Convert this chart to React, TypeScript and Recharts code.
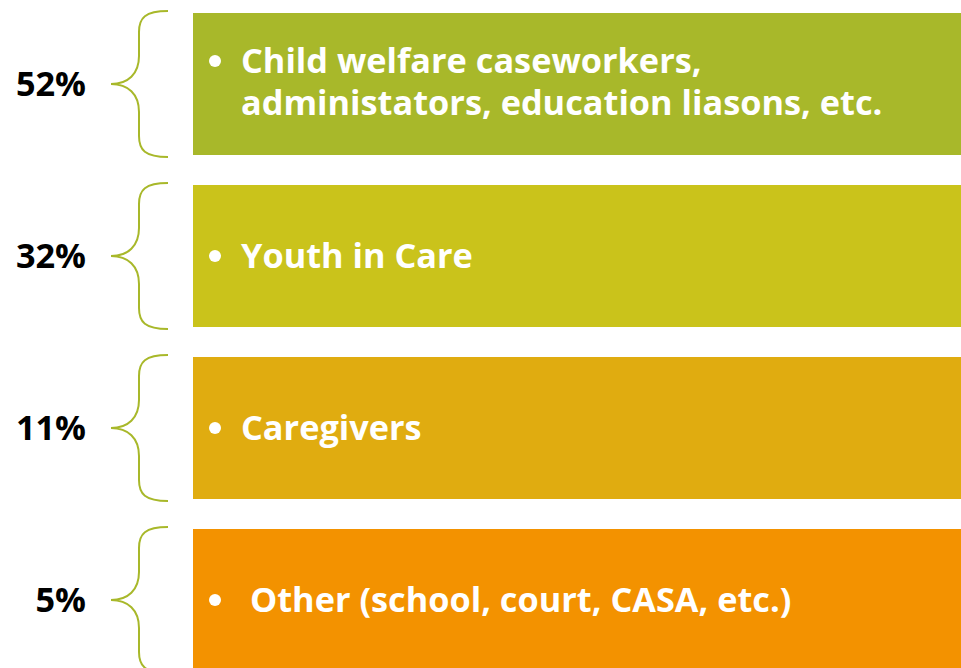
import React from 'react';
import { BarChart, Bar, XAxis, YAxis, Cell, Rectangle } from 'recharts';

// share of respondents per group
const percents = [52, 32, 11, 5];
const groupLines = [
  ['Child welfare caseworkers,', 'administators, education liasons, etc.'],
  ['Youth in Care'],
  ['Caregivers'],
  [' Other (school, court, CASA, etc.)'],
];
const groupColors = ['#A8B82A', '#CAC31B', '#E0AC10', '#F39200'];
const braceColor = '#A8B82A';
const fullScale = 100;

const data = percents.map((p, i) => ({
  pct: p,
  full: fullScale,
  lines: groupLines[i],
}));

const FONT = '"Open Sans", "Noto Sans", sans-serif';
const FS = 34.3;

// left side: percentage + curly brace
const BraceTick = (props: any) => {
  const { x, y, payload } = props;
  const c = y;
  const ends = x - 25;
  const mid = x - 54;
  const tip = x - 82;
  const d = `M${ends},${c - 73} C${mid + 6},${c - 73} ${mid},${c - 66} ${mid},${c - 52}
    L${mid},${c - 28} C${mid},${c - 10} ${tip + 17},${c} ${tip},${c}
    C${tip + 17},${c} ${mid},${c + 10} ${mid},${c + 28}
    L${mid},${c + 52} C${mid},${c + 66} ${mid + 6},${c + 73} ${ends},${c + 73}`;
  return (
    <g>
      <path d={d} fill="none" stroke={braceColor} strokeWidth={2} />
      <text
        x={x - 107}
        y={c + 12}
        textAnchor="end"
        fontFamily={FONT}
        fontWeight={700}
        fontSize={FS}
        fill="#000"
      >
        {`${payload.value}%`}
      </text>
    </g>
  );
};

// bar box with bullet text inside
const GroupBox = (props: any) => {
  const { x, y, width, height, fill, payload } = props;
  const lines: string[] = payload.lines;
  const lineH = 42;
  const cy = y + height / 2 - (lines.length > 1 ? 2 : 0);
  const first = cy - ((lines.length - 1) * lineH) / 2;
  return (
    <g>
      <Rectangle x={x} y={y} width={width} height={height} fill={fill} />
      <circle cx={x + 22} cy={first} r={6} fill="#fff" />
      <text
        x={x + 48}
        y={first + 12}
        fontFamily={FONT}
        fontWeight={700}
        fontSize={FS}
        fill="#fff"
        style={{ whiteSpace: 'pre' }}
      >
        {lines.map((ln, k) => (
          <tspan key={k} x={x + 48} dy={k === 0 ? 0 : lineH}>
            {ln}
          </tspan>
        ))}
      </text>
    </g>
  );
};

export default function App() {
  return (
    <div
      style={{
        position: 'fixed',
        left: 0,
        top: 0,
        width: 961,
        height: 668,
        overflow: 'hidden',
        background: '#fff',
      }}
    >
      <div style={{ marginTop: -2 }}>
        <BarChart
          layout="vertical"
          width={961}
          height={688}
          data={data}
          margin={{ top: 0, right: 0, bottom: 0, left: 0 }}
          barCategoryGap={15}
        >
          <XAxis type="number" domain={[0, fullScale]} hide />
          <YAxis
            type="category"
            dataKey="pct"
            width={193}
            axisLine={false}
            tickLine={false}
            tickSize={0}
            tickMargin={0}
            interval={0}
            tick={<BraceTick />}
          />
          <Bar dataKey="full" isAnimationActive={false} shape={<GroupBox />}>
            {data.map((d, i) => (
              <Cell key={i} fill={groupColors[i]} />
            ))}
          </Bar>
        </BarChart>
      </div>
    </div>
  );
}
